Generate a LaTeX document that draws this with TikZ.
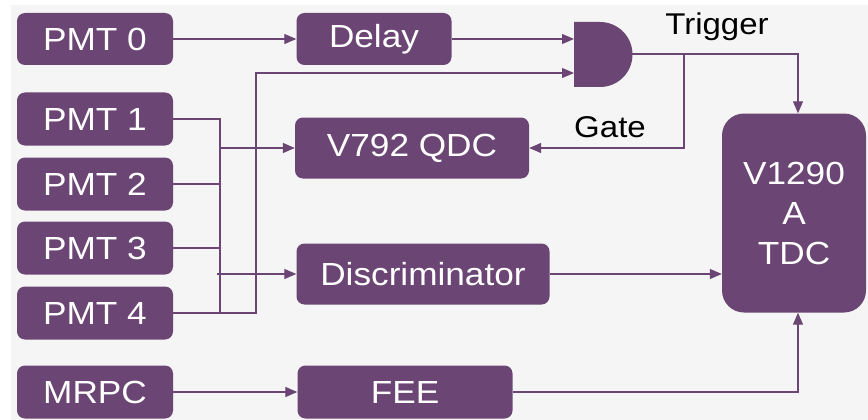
\documentclass[tikz,border=0pt]{standalone}
\usepackage{fontspec}
\setmainfont[FakeStretch=1.1]{Liberation Sans}
\usepackage{tikz}
\usetikzlibrary{arrows.meta}
\definecolor{plum}{RGB}{107,69,115}
\definecolor{backgray}{RGB}{245,245,245}

\begin{document}
\begin{tikzpicture}[x=1pt, y=-1pt,
  block/.style={fill=plum, text=white, rounded corners=8pt, inner sep=0pt,
    font=\fontsize{32}{40}\selectfont},
  wire/.style={draw=plum, line width=1.3pt},
  arr/.style={wire, -{Triangle[length=12pt, width=10pt]}},
  lbl/.style={text=black, font=\fontsize{30}{38}\selectfont}]
\useasboundingbox (0, 0) rectangle (868, 420);
\fill[backgray] (11, 5) rectangle (868, 420);
\node[block, minimum width=156pt, minimum height=52pt] (pmt0) at (95, 39) {PMT 0};
\node[block, minimum width=156pt, minimum height=53pt] (pmt1) at (95, 119) {PMT 1};
\node[block, minimum width=156pt, minimum height=53pt] (pmt2) at (95, 184) {PMT 2};
\node[block, minimum width=156pt, minimum height=53pt] (pmt3) at (95, 248) {PMT 3};
\node[block, minimum width=156pt, minimum height=53pt] (pmt4) at (95, 313) {PMT 4};
\node[block, minimum width=156pt, minimum height=53pt] (mrpc) at (95, 392) {MRPC};
\node[block, minimum width=155pt, minimum height=52pt] (delay) at (374, 39) {Delay};
\node[block, minimum width=234pt, minimum height=61pt] (qdc) at (412, 148) {V792 QDC};
\node[block, minimum width=253pt, minimum height=61pt] (disc) at (423, 274) {Discriminator};
\node[block, minimum width=215pt, minimum height=53pt] (fee) at (405, 392) {FEE};
\node[block, rounded corners=22pt, minimum width=144pt, minimum height=199pt,
  align=center] (tdc) at (794, 213) {V1290\\A\\TDC};
\fill[plum] (574, 22) -- (600, 22) arc[start angle=90, end angle=-90, radius=32.5pt]
  -- (574, 87) -- cycle;
\coordinate (gin1) at (574, 38);
\coordinate (gin2) at (574, 73);
\coordinate (gout) at (632, 54);
\coordinate (split) at (684, 54);
\coordinate (bus) at (220, 0);
\coordinate (riser) at (256, 73);
\node[lbl] (trig) at (717, 27) {Trigger};
\node[lbl] (gate) at (610, 127) {Gate};
\draw[arr] (pmt0.east) -- (delay.west);
\draw[arr] (delay.east) -- (delay.east -| gin1);
\draw[wire] (pmt1.east) -| (bus |- pmt4.east) -- (pmt4.east);
\draw[wire] (pmt2.east) -- (pmt2.east -| bus);
\draw[wire] (pmt3.east) -- (pmt3.east -| bus);
\draw[arr] (bus |- qdc.west) -- (qdc.west);
\draw[arr] ([xshift=-3pt]bus |- disc.west) -- (disc.west);
\draw[arr] (pmt4.east) -| (riser) -- (gin2);
\draw[arr] (gout) -| ([xshift=4pt]tdc.north);
\draw[arr] (split) |- (qdc.east);
\draw[arr] (disc.east) -- (disc.east -| tdc.west);
\draw[arr] (mrpc.east) -- (fee.west);
\draw[arr] (fee.east) -| ([xshift=4pt]tdc.south);
\end{tikzpicture}
\end{document}
